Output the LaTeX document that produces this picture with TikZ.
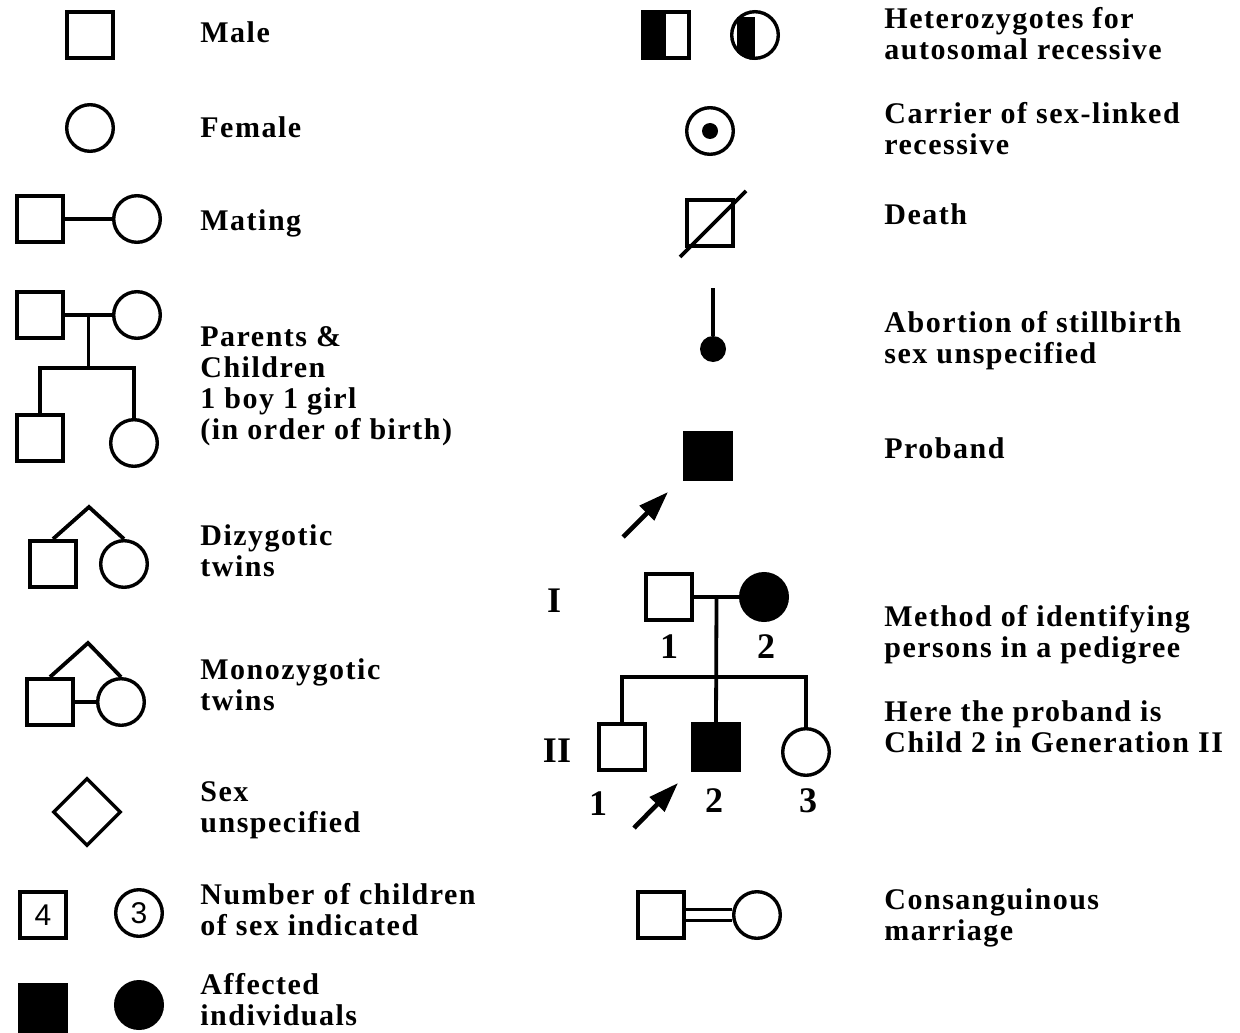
\documentclass[tikz,border=0pt]{standalone}
\usepackage{fontspec}
\setmainfont{Liberation Serif}
\setsansfont{Liberation Sans}
\newfontfamily\legserif[LetterSpace=5]{Liberation Serif}
\usepackage{tikz}
\usetikzlibrary{shapes.geometric, arrows.meta, calc}
\newcommand{\legfont}{\legserif\bfseries\fontsize{15pt}{15.5pt}\selectfont}
\newcommand{\pedfont}{\bfseries\fontsize{18pt}{18pt}\selectfont}
\newcommand{\countfont}{\sffamily\fontsize{15pt}{15pt}\selectfont}
\tikzset{
  % Individuals
  male/.style={
    rectangle, draw, line width=2pt, minimum size=23pt, inner sep=0pt,
  },
  female/.style={
    circle, draw, line width=1.7pt, minimum size=23.3pt, inner sep=0pt,
  },
  unknown/.style={
    diamond, draw, line width=1.7pt, aspect=1, minimum size=34pt, inner sep=0pt,
  },
  affected/.style={fill=black},
  % Lines of descent
  kinline/.style={line width=1.9pt},
  % Proband pointer
  probarrow/.style={-{Triangle[length=15pt, width=10pt]}, line width=2.3pt},
  % Legend text (node base = last line)
  legtext/.style={anchor=base west, align=left, font=\legfont, inner sep=0pt},
  % Generation and person numbers
  pednum/.style={anchor=base, font=\pedfont, inner sep=0pt},
  countnum/.style={font=\countfont},
}

\begin{document}
\begin{tikzpicture}[x=0.5pt, y=-0.5pt]
  \useasboundingbox (0,0) rectangle (1240,1032);

  % Left column
  \node[male] (male) at (90,35) {};
  \node[legtext] (male-t) at (200,43) {Male};

  \node[female] (female) at (90,128) {};
  \node[legtext] (female-t) at (200,138) {Female};

  \node[male] (mat-m) at (40,219) {};
  \node[female] (mat-f) at (137,219) {};
  \draw[kinline] (mat-m) -- (mat-f);
  \node[legtext] (mat-t) at (200,230) {Mating};

  \node[male] (pc-fa) at (40,315) {};
  \node[female] (pc-mo) at (137,315) {};
  \node[male] (pc-son) at (40,438) {};
  \node[female] (pc-dau) at (134,443) {};
  \draw[kinline] (pc-fa) -- (pc-mo) coordinate[midway] (pc-mid);
  \coordinate (pc-sib) at ($(pc-mid)+(0,53)$);
  \draw[kinline] (pc-mid) -- (pc-sib);
  \draw[kinline] (pc-son.north) |- (pc-sib) -| (pc-dau.north);
  \node[legtext] (pc-t) at (200,439) {Parents \&\\Children\\1 boy 1 girl\\(in order of birth)};

  \node[male] (dz-m) at (53,564) {};
  \node[female] (dz-f) at (124,564) {};
  \coordinate (dz-apex) at (89,507);
  \draw[kinline] (dz-m.north) -- (dz-apex) -- (dz-f.north);
  \node[legtext] (dz-t) at (200,576) {Dizygotic\\twins};

  \node[male] (mz-m) at (50,702) {};
  \node[female] (mz-f) at (121,702) {};
  \coordinate (mz-apex) at (88,643);
  \draw[kinline] (mz-m.north) -- (mz-apex) -- (mz-f.north);
  \draw[kinline] (mz-m) -- (mz-f);
  \node[legtext] (mz-t) at (200,710) {Monozygotic\\twins};

  \node[unknown] (unk) at (87,812) {};
  \node[legtext] (unk-t) at (200,832) {Sex\\unspecified};

  \node[male, countnum] (num-m) at (43,915) {4};
  \node[female, countnum] (num-f) at (139,913) {3};
  \node[legtext] (num-t) at (200,935) {Number of children\\of sex indicated};

  \node[male, affected] (aff-m) at (43,1008) {};
  \node[female, affected] (aff-f) at (139,1005) {};
  \node[legtext] (aff-t) at (200,1025) {Affected\\individuals};

  % Right column
  \node[male] (het-m) at (666,35) {};
  \fill (het-m.north west) rectangle (het-m.south);
  \node[female] (het-f) at (755,35) {};
  \begin{scope}
    \clip (het-f.center) circle[radius=12.5pt];
    \fill (het-f.north west) rectangle (het-f.south);
  \end{scope}
  \node[legtext] (het-t) at (884,60) {Heterozygotes for\\autosomal recessive};

  \node[female] (carrier) at (710,131) {};
  \fill (carrier.center) circle[radius=4pt];
  \node[legtext] (carrier-t) at (884,155) {Carrier of sex-linked\\recessive};

  \node[male] (death) at (710,223) {};
  \draw[kinline] (death.center) ++(-30,34) -- ++(66,-66);
  \node[legtext] (death-t) at (884,225) {Death};

  \coordinate (ab-top) at (713,288);
  \node[circle, fill=black, minimum size=13pt, inner sep=0pt] (abort) at (713,349) {};
  \draw[kinline] (ab-top) -- (abort);
  \node[legtext] (abort-t) at (884,363) {Abortion of stillbirth\\sex unspecified};

  \node[male, affected] (proband) at (708,456) {};
  \coordinate (pb-tail) at (623,537);
  \coordinate (pb-tip) at (668,492);
  \draw[probarrow] (pb-tail) -- (pb-tip);
  \node[legtext] (proband-t) at (884,458) {Proband};

  % Sample pedigree
  \node[pednum] (gen-1) at (554,612) {I};
  \node[pednum] (gen-2) at (557,762) {II};
  \node[male] (i1) at (669,597) {};
  \node[female, affected] (i2) at (764,597) {};
  \draw[kinline] (i1) -- (i2) coordinate[midway] (i-mid);
  \node[pednum] (i1-n) at (669,658) {1};
  \node[pednum] (i2-n) at (766,658) {2};

  \node[male] (ii1) at (622,747) {};
  \node[male, affected] (ii2) at (716,747) {};
  \node[female] (ii3) at (806,752) {};
  \coordinate (ii-sib) at ($(i-mid)+(0,80)$);
  \draw[kinline] (i-mid) -- (ii2.north);
  \draw[kinline] (ii1.north) |- (ii-sib) -| (ii3.north);
  \node[pednum] (ii1-n) at (598,815) {1};
  \node[pednum] (ii2-n) at (714,812) {2};
  \node[pednum] (ii3-n) at (808,812) {3};
  \coordinate (ped-tail) at (634,828);
  \coordinate (ped-tip) at (678,783);
  \draw[probarrow] (ped-tail) -- (ped-tip);

  \node[legtext] (ped-t1) at (884,657) {Method of identifying\\persons in a pedigree};
  \node[legtext] (ped-t2) at (884,752) {Here the proband is\\Child 2 in Generation II};

  \node[male] (con-m) at (661,915) {};
  \node[female] (con-f) at (757,915) {};
  \draw[line width=1.5pt, double, double distance=4pt] (con-m) -- (con-f);
  \node[legtext] (con-t) at (884,940) {Consanguinous\\marriage};

\end{tikzpicture}
\end{document}
